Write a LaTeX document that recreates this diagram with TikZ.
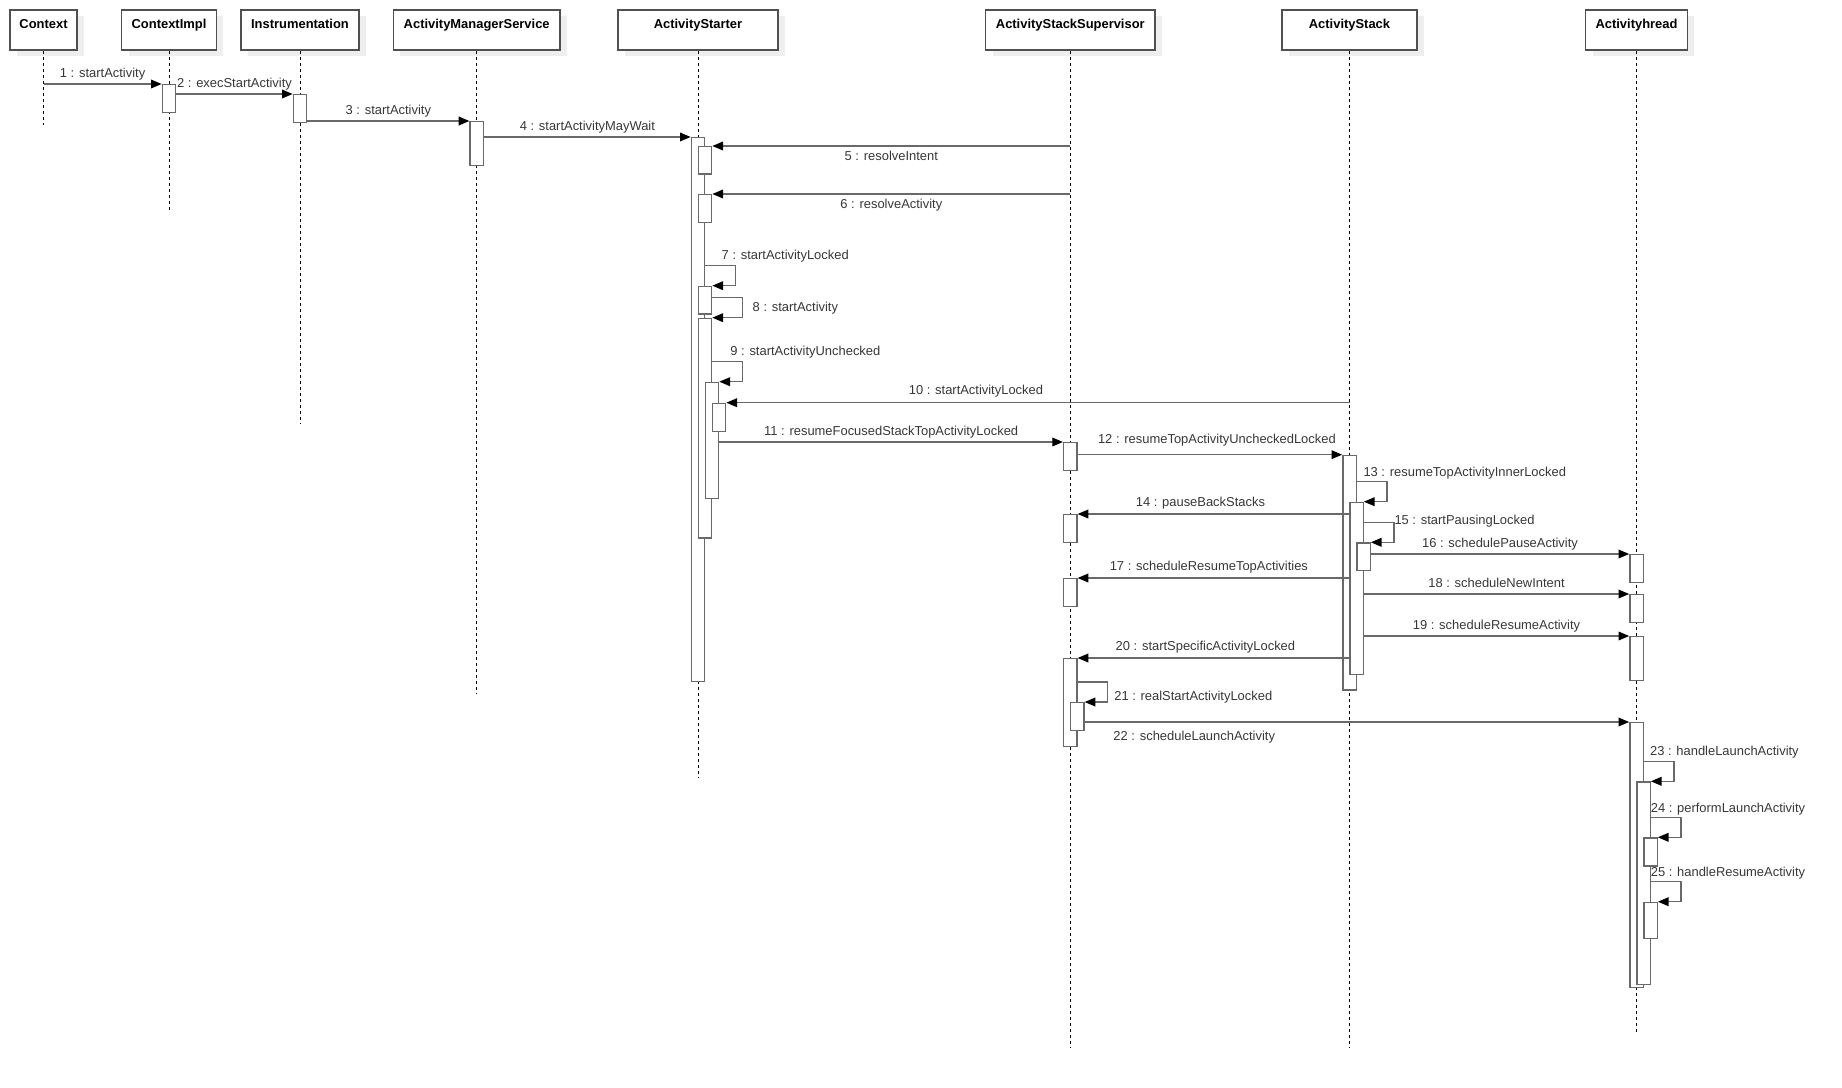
\documentclass[tikz,border=0pt]{standalone}
\usepackage{fontspec}
\setmainfont{Liberation Sans}
\usepackage{tikz}
\usetikzlibrary{arrows.meta, positioning, calc, shadows}
\definecolor{boxgray}{RGB}{80,80,80}
\definecolor{linegray}{RGB}{105,105,105}
\definecolor{textgray}{RGB}{55,55,55}
\definecolor{shadowgray}{RGB}{238,238,238}
% activation bar: name, x, top, bottom (all in px)
\newcommand{\actbar}[4]{\node[bar, minimum height={(#4-#3)*0.75pt}] (#1) at (#2,#3) {};}
% call to self: from bar, to bar, label options, label
\newcommand{\selfmsg}[4]{\draw[msg] ($(#1.east |- #2.north)+(0,-20)$) -- ++(30,0)
  node[lbl, anchor=west, #3] {#4} |- (#2.north east);}

\begin{document}
\begin{tikzpicture}[
  x=0.75pt, y=-0.75pt,
  font=\fontsize{9.7}{11.6}\selectfont,
  head/.style={draw=boxgray, line width=1pt, fill=white, anchor=north,
               inner sep=0pt, minimum height=30pt, text height=14pt,
               text depth=16pt, font=\fontsize{9.7}{11.6}\selectfont\bfseries,
               drop shadow={shadow xshift=5.25pt, shadow yshift=-4.5pt,
                            fill=shadowgray, draw=none, opacity=1}},
  bar/.style={draw=linegray, line width=1pt, fill=white, anchor=north,
              minimum width=10pt, inner sep=0pt},
  msg/.style={linegray, line width=1pt,
              -{Triangle[length=8pt, width=6.5pt, color=black]}},
  lifeline/.style={black, line width=0.75pt, dash pattern=on 2.5pt off 2pt},
  lbl/.style={text=textgray, inner sep=0pt, text height=7pt, text depth=0pt}
]
\useasboundingbox (0,0) rectangle (1842,1088);

% Objekte
\node[head, minimum width=50.3pt]  (ctx)     at (43.5,9.3)   {Context};
\node[head, minimum width=70.9pt]  (cimpl)   at (169,9.3)    {ContextImpl};
\node[head, minimum width=88.4pt]  (instr)   at (300,9.3)    {Instrumentation};
\node[head, minimum width=125pt]   (ams)     at (476.7,9.3)  {ActivityManagerService};
\node[head, minimum width=120.2pt] (starter) at (698,9.3)    {ActivityStarter};
\node[head, minimum width=127pt]   (sup)     at (1070.3,9.3) {ActivityStackSupervisor};
\node[head, minimum width=101.3pt] (stack)   at (1349.5,9.3) {ActivityStack};
\node[head, minimum width=76.2pt]  (thread)  at (1636.5,9.3) {Activityhread};

% Lebenslinien
\coordinate (ctx-end)     at (43.5,125);
\coordinate (cimpl-end)   at (169,209.6);
\coordinate (instr-end)   at (300,424);
\coordinate (ams-end)     at (476.7,693);
\coordinate (starter-end) at (698,778);
\coordinate (sup-end)     at (1070.3,1047.5);
\coordinate (stack-end)   at (1349.5,1047.5);
\coordinate (thread-end)  at (1636.5,1031.5);
\draw[lifeline] (ctx) -- (ctx-end);
\draw[lifeline] (cimpl) -- (cimpl-end);
\draw[lifeline] (instr) -- (instr-end);
\draw[lifeline] (ams) -- (ams-end);
\draw[lifeline] (starter) -- (starter-end);
\draw[lifeline] (sup) -- (sup-end);
\draw[lifeline] (stack) -- (stack-end);
\draw[lifeline] (thread) -- (thread-end);

% Aktivierungsbalken
\actbar{ci1}{169}{84}{111.6}
\actbar{in1}{300}{94}{122}
\actbar{am1}{476.7}{121}{165}
\actbar{st0}{698}{137}{681}
\actbar{st1}{705}{146}{173.3}
\actbar{st2}{705}{194}{221.7}
\actbar{st3}{705}{285.7}{313.3}
\actbar{st4}{705}{317.7}{537.3}
\actbar{st5}{712}{381.7}{497.7}
\actbar{st6}{719}{402.7}{431}
\actbar{su1}{1070.3}{442}{470}
\actbar{su2}{1070.3}{514}{541.7}
\actbar{su3}{1070.3}{578}{605.7}
\actbar{su4}{1070.3}{658}{745.7}
\actbar{su5}{1077.3}{702}{730}
\actbar{sk0}{1349.5}{454.7}{689.3}
\actbar{sk1}{1356.5}{501.7}{674}
\actbar{sk2}{1363.5}{542.3}{570}
\actbar{th1}{1636.5}{554}{581.7}
\actbar{th2}{1636.5}{594}{621.7}
\actbar{th3}{1636.5}{636}{680}
\actbar{th4}{1636.5}{722}{986.7}
\actbar{th5}{1643.5}{781.3}{984}
\actbar{th6}{1650.5}{837.3}{865.3}
\actbar{th7}{1650.5}{901.7}{937.7}

% Nachrichten
\draw[msg] (ctx.south |- ci1.north) -- node[lbl, above=4.5pt] {1 : startActivity} (ci1.north west);
\draw[msg] (ci1.east |- in1.north) -- node[lbl, above=4.5pt] {2 : execStartActivity} (in1.north west);
\draw[msg] (in1.east |- am1.north) -- node[lbl, above=4.5pt] {3 : startActivity} (am1.north west);
\draw[msg] (am1.east |- st0.north) -- node[lbl, above=4.5pt] {4 : startActivityMayWait} (st0.north west);
\draw[msg] (sup.south |- st1.north) -- node[lbl, below=3.6pt] {5 : resolveIntent} (st1.north east);
\draw[msg] (sup.south |- st2.north) -- node[lbl, below=3.6pt] {6 : resolveActivity} (st2.north east);
\selfmsg{st0}{st3}{xshift=-10.7pt, yshift=8pt}{7 : startActivityLocked}
\selfmsg{st3}{st4}{xshift=7.3pt, yshift=-6.75pt}{8 : startActivity}
\selfmsg{st4}{st5}{xshift=-9.5pt, yshift=7.8pt}{9 : startActivityUnchecked}
\draw[msg] (stack.south |- st6.north) -- node[lbl, above=5.5pt, xshift=-46.5pt] {10 : startActivityLocked} (st6.north east);
\draw[msg] (st5.east |- su1.north) -- node[lbl, above=4.5pt] {11 : resumeFocusedStackTopActivityLocked} (su1.north west);
\draw[msg] (su1.east |- sk0.north) -- node[lbl, above=8pt, xshift=5.25pt] {12 : resumeTopActivityUncheckedLocked} (sk0.north west);
\selfmsg{sk0}{sk1}{xshift=-18pt, yshift=7.7pt}{13 : resumeTopActivityInnerLocked}
\draw[msg] (sk1.west |- su2.north) -- node[lbl, above=5pt, xshift=-9.75pt] {14 : pauseBackStacks} (su2.north east);
\selfmsg{sk1}{sk2}{yshift=1.8pt}{15 : startPausingLocked}
\draw[msg] (sk2.east |- th1.north) -- node[lbl, above=4.5pt] {16 : schedulePauseActivity} (th1.north west);
\draw[msg] (sk1.west |- su3.north) -- node[lbl, above=5pt, xshift=-3.4pt] {17 : scheduleResumeTopActivities} (su3.north east);
\draw[msg] (sk1.east |- th2.north) -- node[lbl, above=4.5pt] {18 : scheduleNewIntent} (th2.north west);
\draw[msg] (sk1.east |- th3.north) -- node[lbl, above=4.5pt] {19 : scheduleResumeActivity} (th3.north west);
\draw[msg] (sk1.west |- su4.north) -- node[lbl, above=5pt, xshift=-6pt] {20 : startSpecificActivityLocked} (su4.north east);
\selfmsg{su4}{su5}{xshift=4.5pt, yshift=-10pt}{21 : realStartActivityLocked}
\draw[msg] (su5.east |- th4.north) -- node[lbl, below=6.5pt, xshift=-122pt] {22 : scheduleLaunchActivity} (th4.north west);
\selfmsg{th4}{th5}{xshift=-18.3pt, yshift=7.65pt}{23 : handleLaunchActivity}
\selfmsg{th5}{th6}{xshift=-23pt, yshift=7.2pt}{24 : performLaunchActivity}
\selfmsg{th5}{th7}{xshift=-23pt, yshift=7.3pt}{25 : handleResumeActivity}
\end{tikzpicture}
\end{document}
